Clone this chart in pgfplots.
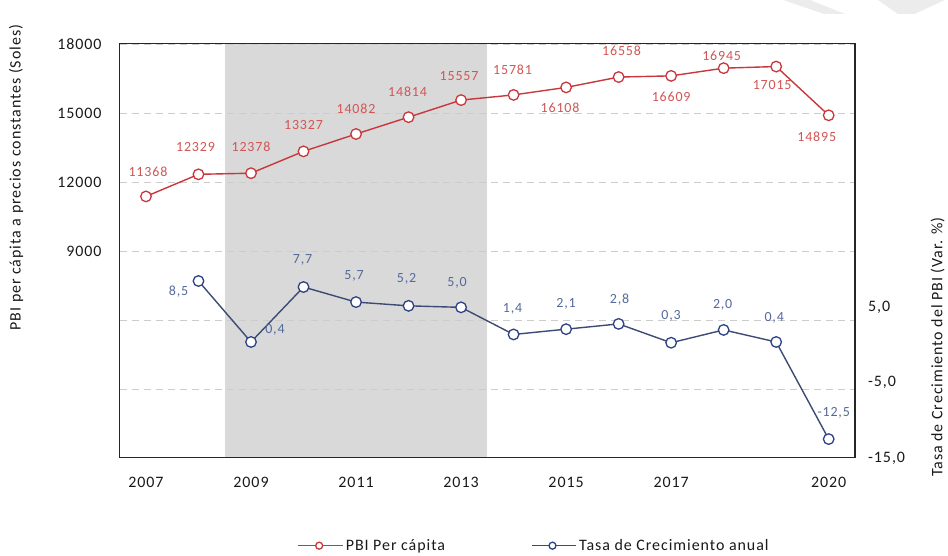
\documentclass[border=0pt]{standalone}
\usepackage{fontspec}
\setmainfont{Carlito}[LetterSpace=6]
\usepackage{pgfplots}
\usepackage{pgfplotstable}
\pgfplotsset{compat=1.18}

\definecolor{pbiline}{RGB}{200,55,60}
\definecolor{pbitext}{RGB}{210,85,85}
\definecolor{tasaline}{RGB}{60,75,115}
\definecolor{tasamark}{RGB}{45,65,135}
\definecolor{tasatext}{RGB}{85,105,155}
\definecolor{bandgray}{RGB}{217,217,217}

\newcommand{\tickfont}{\fontsize{16}{18}\selectfont}
\newcommand{\lblfont}{\fontsize{14}{16}\selectfont}

% PBI per capita (soles), label offsets in pt
\pgfplotstableread{
year val   lbl   dx  dy
2007 11368 11368  2  25
2008 12329 12329 -3  27
2009 12378 12378  0  26
2010 13327 13327  0  26
2011 14082 14082  0  25
2012 14814 14814 -1  25
2013 15557 15557 -2  24
2014 15781 15781 -1  25
2015 16108 16108 -6 -20
2016 16558 16558  3  26
2017 16609 16609  0 -21
2018 16945 16945 -2  12
2019 17015 17015 -4 -19
2020 14895 14895 -12 -22
}\pbi

% tasa de crecimiento (%)
\pgfplotstableread{
year val   lbl   dx  dy
2008 8.5   8,5  -20 -11
2009 0.4   0,4   24  12
2010 7.7   7,7   -1  27
2011 5.7   5,7   -2  26
2012 5.2   5,2   -2  27
2013 5.0   5,0   -4  25
2014 1.4   1,4   -1  26
2015 2.1   2,1    0  25
2016 2.8   2,8    1  24
2017 0.3   0,3    0  27
2018 2.0   2,0   -1  25
2019 0.4   0,4   -2  24
2020 -12.5 -12,5  5  26
}\tasa

\pgfplotsset{
  pbistyle/.style={color=pbiline, line width=1.4pt, mark=*, mark size=5.3pt,
    mark options={fill=white, draw=pbiline, line width=1.3pt}},
  tasastyle/.style={color=tasaline, line width=1.4pt, mark=*, mark size=5.3pt,
    mark options={fill=white, draw=tasamark, line width=1.3pt}},
  lbls/.style={nodes near coords, point meta=explicit symbolic,
    visualization depends on={\thisrow{dx} \as \lblx},
    visualization depends on={\thisrow{dy} \as \lbly},
    every node near coord/.append style={anchor=center, inner sep=0pt,
      xshift=\lblx*1pt, yshift=\lbly*1pt, font=\lblfont, text=#1}},
}

\begin{document}
\begin{tikzpicture}
% faint watermark at the top right
\fill[gray!15] (665pt,459pt) -- (692pt,459pt) -- (727pt,445pt) -- (706pt,445pt) -- cycle;
\fill[gray!15] (760pt,459pt) -- (827pt,459pt) -- (797pt,445pt) -- (780pt,445pt) -- cycle;

\begin{axis}[
  set layers,
  scale only axis, width=737pt, height=415pt,
  xmin=2006.5, xmax=2020.5, ymin=0, ymax=18000,
  scaled y ticks=false,
  xtick={2007,2009,2011,2013,2015,2017,2020},
  xticklabels={2007,2009,2011,2013,2015,2017,2020},
  ytick={3000,6000,9000,12000,15000,18000},
  yticklabels={{},{},9000,12000,15000,18000},
  major tick length=0pt,
  ymajorgrids,
  grid style={gray!40, line width=0.7pt, dash pattern=on 7pt off 5pt},
  axis line style={black!85, line width=1.2pt},
  tick label style={font=\tickfont, text=black!90, inner sep=0pt},
  xticklabel style={yshift=-19pt},
  yticklabel style={xshift=-18pt},
  ylabel={PBI per cápita a precios constantes (Soles)},
  ylabel style={at={(axis description cs:-0.1411,0.677)}, anchor=center,
    font=\tickfont, text=black!90},
]
\begin{pgfonlayer}{axis background}
\fill[bandgray] (axis cs:2008.5,0) rectangle (axis cs:2013.5,18000);
\end{pgfonlayer}
\addplot[pbistyle, lbls=pbitext] table[x=year, y=val, meta=lbl] {\pbi};
\end{axis}

\begin{axis}[
  scale only axis, width=737pt, height=415pt,
  xmin=2006.5, xmax=2020.5, ymin=-15, ymax=40,
  axis y line*=right, axis x line=none,
  ytick={-15,-5,5}, yticklabels={{-15,0},{-5,0},{5,0}},
  major tick length=0pt,
  axis line style={black!85, line width=1.2pt},
  yticklabel style={font=\tickfont, text=black!90, inner sep=0pt, xshift=13pt},
  ylabel={Tasa de Crecimiento del PBI (Var. \%)},
  ylabel style={at={(axis description cs:1.1126,0.2675)}, anchor=center,
    font=\tickfont, text=black!90},
  legend style={at={(axis description cs:0.2375,-0.212)}, anchor=west,
    draw=none, fill=none, font=\tickfont, text=black!90, legend columns=2,
    /tikz/every even column/.append style={column sep=84pt}},
  legend image code/.code={
    \draw[#1, mark=none] (0pt,0pt) -- (45pt,0pt);
    \draw[#1, mark size=3.5pt] plot coordinates {(21pt,0pt)};
  },
]
\addlegendimage{pbistyle}
\addlegendentry{PBI Per cápita}
\addplot[tasastyle, lbls=tasatext] table[x=year, y=val, meta=lbl] {\tasa};
\addlegendentry{Tasa de Crecimiento anual}
\end{axis}
\path (-120pt,-95pt) rectangle (828pt,459pt);
\end{tikzpicture}
\end{document}
